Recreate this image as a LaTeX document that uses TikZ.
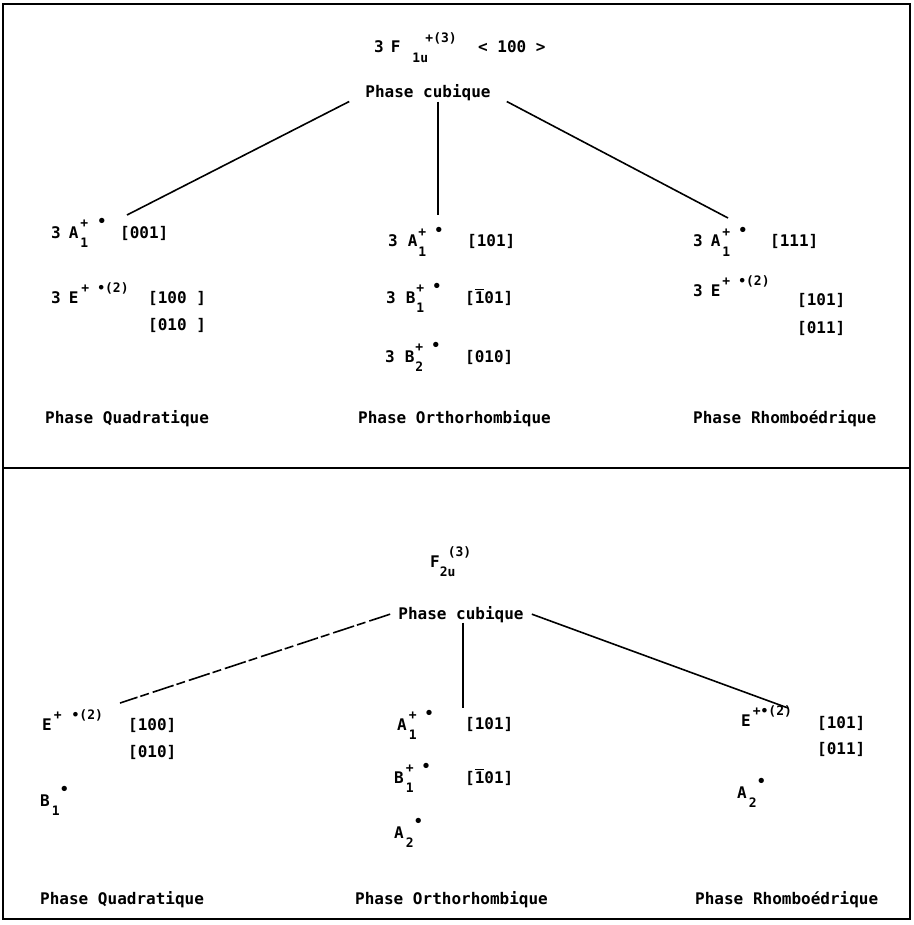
\documentclass[tikz,border=0pt]{standalone}
\usepackage{fontspec}
\newfontfamily\printfont{DejaVu Sans Mono}
\usetikzlibrary{positioning}

\newcommand{\irsup}[1]{\raisebox{.65em}{\fontsize{13}{13}\selectfont#1}}
\newcommand{\irsub}[1]{\raisebox{-.6em}{\fontsize{13}{13}\selectfont#1}}
\newcommand{\irboth}[2]{\rlap{\irsup{#1}}\irsub{#2}}
\newcommand{\irdot}{\raisebox{.75em}{\fontsize{15}{15}\selectfont •}}
\newcommand{\barone}{\rlap{\rule[.8em]{.55em}{.09em}}1}

\begin{document}
\begin{tikzpicture}[x=1pt,y=-1pt,
    txt/.style={font=\printfont\bfseries\fontsize{16}{19}\selectfont, anchor=base west, inner sep=0pt},
    cubic/.style={txt, anchor=base, inner ysep=0pt},
    link/.style={line width=1.6pt},
    frame/.style={line width=2.2pt}]
  \useasboundingbox (0,0) rectangle (913,925);
  \draw[frame] (3,4) rectangle (910,919);
  \draw[frame] (3,468) -- (910,468);

  % upper panel
  \node[txt] (fu) at (374,53) {3\kern7pt F\kern12pt\rlap{\kern13pt\irsup{+(3)}}\irsub{1u}\kern50pt< 100 >};
  \node[cubic, inner xsep=16pt] (cub1) at (428,98) {Phase cubique};
  \coordinate (endQ1) at (127,215);
  \coordinate (endO1) at (438,215);
  \coordinate (endR1) at (728,218);
  \draw[link] (cub1.south west) -- (endQ1);
  \draw[link] (cub1.south -| endO1) -- (endO1);
  \draw[link] (cub1.south east) -- (endR1);

  \node[txt] (qa1) at (51,238) {3\kern8pt A\kern2pt\irboth{+}{1}\kern9pt\irdot};
  \node[txt] (qa1d) at (120,238) {[001]};
  \node[txt] (qe1) at (51,303) {3\kern8pt E\kern3pt\irsup{+\kern8pt•(2)}};
  \node[txt] (qe1d) at (148,303) {[100 ]};
  \node[txt] (qe1e) at (148,330) {[010 ]};

  \node[txt] (oa1) at (388,247) {3\kern10pt A\kern1pt\irboth{+}{1}\kern8pt\irdot};
  \node[txt] (oa1d) at (467,247) {[101]};
  \node[txt] (ob1) at (386,303) {3\kern10pt B\kern1pt\irboth{+}{1}\kern8pt\irdot};
  \node[txt] (ob1d) at (465,303) {[\barone01]};
  \node[txt] (ob2) at (385,362) {3\kern10pt B\kern1pt\irboth{+}{2}\kern8pt\irdot};
  \node[txt] (ob2d) at (465,362) {[010]};

  \node[txt] (ra1) at (693,247) {3\kern8pt A\kern2pt\irboth{+}{1}\kern8pt\irdot};
  \node[txt] (ra1d) at (770,247) {[111]};
  \node[txt] (re1) at (693,296) {3\kern8pt E\kern2pt\irsup{+\kern8pt•(2)}};
  \node[txt] (re1d) at (797,305) {[101]};
  \node[txt] (re1e) at (797,333) {[011]};

  \node[txt] (quad1) at (45,423) {Phase Quadratique};
  \node[txt] (orth1) at (358,423) {Phase Orthorhombique};
  \node[txt] (rhom1) at (693,423) {Phase Rhomboédrique};

  % lower panel
  \node[txt] (fu2) at (430,567) {F\rlap{\kern8pt\irsup{(3)}}\irsub{2u}};
  \node[cubic, inner xsep=8pt] (cub2) at (461,619) {Phase cubique};
  \coordinate (endQ2) at (120,703);
  \coordinate (endO2) at (463,708);
  \coordinate (endR2) at (788,708);
  \draw[link, dash pattern=on 22pt off 4pt on 9pt off 3pt] (cub2.west) -- (endQ2);
  \draw[link] (cub2.south -| endO2) -- (endO2);
  \draw[link] (cub2.east) -- (endR2);

  \node[txt] (qe2) at (42,730) {E\kern2pt\irsup{+\kern10pt•(2)}};
  \node[txt] (qe2d) at (128,730) {[100]};
  \node[txt] (qe2e) at (128,757) {[010]};
  \node[txt] (qb2) at (40,806) {B\kern2pt\rlap{\irsub{1}}\kern8pt\irdot};

  \node[txt] (oa2) at (397,730) {A\kern2pt\irboth{+}{1}\kern8pt\irdot};
  \node[txt] (oa2d) at (465,729) {[101]};
  \node[txt] (ob3) at (394,783) {B\kern2pt\irboth{+}{1}\kern8pt\irdot};
  \node[txt] (ob3d) at (465,783) {[\barone01]};
  \node[txt] (oa3) at (394,838) {A\kern2pt\rlap{\irsub{2}}\kern8pt\irdot};

  \node[txt] (re2) at (741,726) {E\kern2pt\irsup{+•(2)}};
  \node[txt] (re2d) at (817,728) {[101]};
  \node[txt] (re2e) at (817,754) {[011]};
  \node[txt] (ra2) at (737,798) {A\kern2pt\rlap{\irsub{2}}\kern8pt\irdot};

  \node[txt] (quad2) at (40,904) {Phase Quadratique};
  \node[txt] (orth2) at (355,904) {Phase Orthorhombique};
  \node[txt] (rhom2) at (695,904) {Phase Rhomboédrique};
\end{tikzpicture}
\end{document}
